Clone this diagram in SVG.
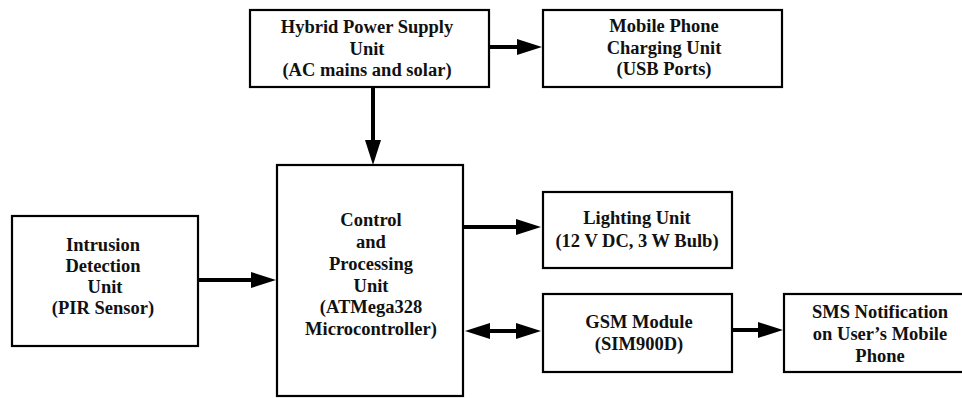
<svg xmlns="http://www.w3.org/2000/svg" width="962" height="398" viewBox="0 0 962 398">
<style>
.box{fill:#fff;stroke:#000;stroke-width:2.2}
.lbl{font-family:'Liberation Serif','DejaVu Serif',serif;font-weight:bold;font-size:18.5px;fill:#111;text-anchor:middle}
.con{stroke:#000;stroke-width:4;fill:none}
</style>
<defs>
<marker id="ah" markerUnits="userSpaceOnUse" markerWidth="26" markerHeight="18" viewBox="0 0 26 18" refX="15" refY="9" orient="auto-start-reverse">
<path d="M0,1 L25,9 L0,17 Z" fill="#000"/>
</marker>
</defs>
<rect width="962" height="398" fill="#fff"/>
<g id="connectors">
<line class="con" x1="489" y1="47" x2="532" y2="47" marker-end="url(#ah)"/>
<line class="con" x1="373" y1="87" x2="373" y2="155" marker-end="url(#ah)"/>
<line class="con" x1="198" y1="280" x2="266" y2="280" marker-end="url(#ah)"/>
<line class="con" x1="463" y1="227" x2="531" y2="227" marker-end="url(#ah)"/>
<line class="con" x1="475" y1="331" x2="531" y2="331" marker-start="url(#ah)" marker-end="url(#ah)"/>
<line class="con" x1="732" y1="330" x2="773" y2="330" marker-end="url(#ah)"/>
</g>
<g id="hybrid">
<rect class="box" x="250" y="10" width="239" height="77"/>
<text class="lbl" x="367" y="33" font-family="Liberation Serif">Hybrid Power Supply</text>
<text class="lbl" x="367" y="54.5">Unit</text>
<text class="lbl" x="367" y="76">(AC mains and solar)</text>
</g>
<g id="mobile">
<rect class="box" x="543" y="10" width="239" height="77"/>
<text class="lbl" x="664" y="32">Mobile Phone</text>
<text class="lbl" x="664" y="53.5">Charging Unit</text>
<text class="lbl" x="664" y="75">(USB Ports)</text>
</g>
<g id="intrusion">
<rect class="box" x="12" y="216" width="186" height="130"/>
<text class="lbl" x="103" y="251">Intrusion</text>
<text class="lbl" x="103" y="272">Detection</text>
<text class="lbl" x="105" y="293">Unit</text>
<text class="lbl" x="103" y="314">(PIR Sensor)</text>
</g>
<g id="control">
<rect class="box" x="277" y="165" width="186" height="231"/>
<text class="lbl" x="371" y="226">Control</text>
<text class="lbl" x="371" y="248">and</text>
<text class="lbl" x="371" y="270">Processing</text>
<text class="lbl" x="371" y="292">Unit</text>
<text class="lbl" x="371" y="313">(ATMega328</text>
<text class="lbl" x="371" y="335">Microcontroller)</text>
</g>
<g id="lighting">
<rect class="box" x="543" y="192" width="189" height="76"/>
<text class="lbl" x="637" y="224">Lighting Unit</text>
<text class="lbl" x="637" y="247">(12 V DC, 3 W Bulb)</text>
</g>
<g id="gsm">
<rect class="box" x="543" y="294" width="189" height="78"/>
<text class="lbl" x="639" y="328">GSM Module</text>
<text class="lbl" x="639" y="350">(SIM900D)</text>
</g>
<g id="sms">
<rect class="box" x="784" y="294" width="192" height="78"/>
<text class="lbl" x="880" y="318">SMS Notification</text>
<text class="lbl" x="880" y="340">on User’s Mobile</text>
<text class="lbl" x="880" y="362">Phone</text>
</g>
</svg>
